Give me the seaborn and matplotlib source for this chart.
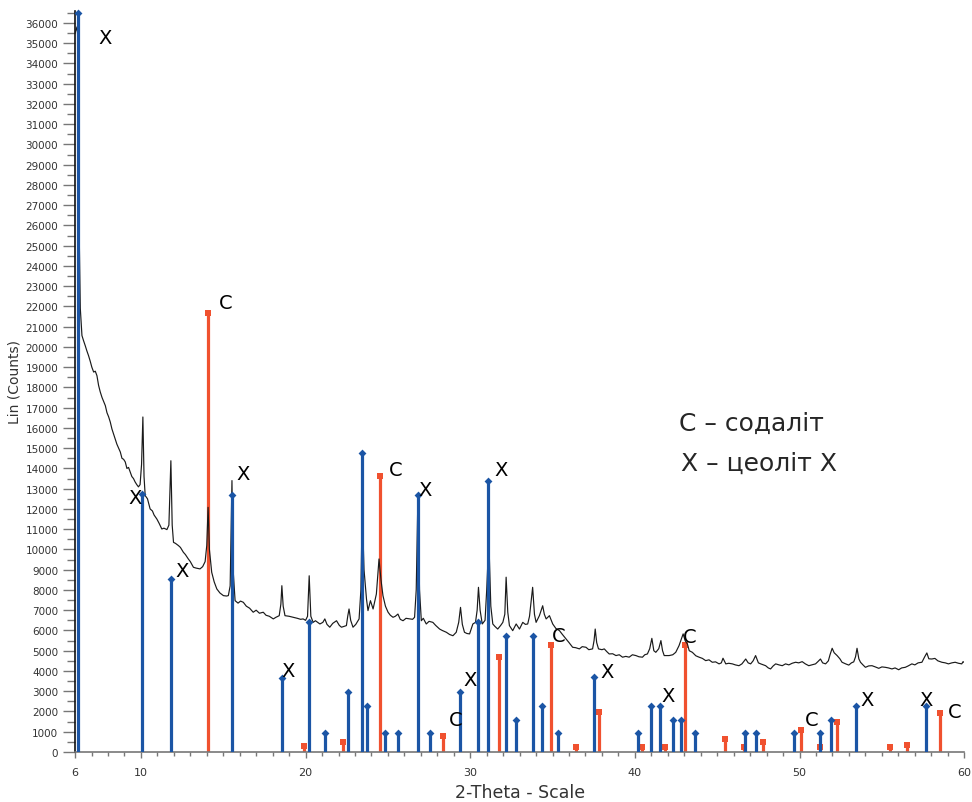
import matplotlib
matplotlib.use("Agg")
import matplotlib.pyplot as plt
import matplotlib.ticker as mticker
import pandas as pd
import seaborn as sns

pattern_2theta = [
    6.0, 6.12, 6.2, 6.26, 6.32, 6.42, 6.52, 6.62, 6.72, 6.82, 6.92, 7.02, 7.13, 7.23, 7.33, 7.43, 7.53,
    7.64, 7.74, 7.84, 7.94, 8.04, 8.14, 8.24, 8.34, 8.44, 8.54, 8.65, 8.75, 8.85, 8.95, 9.05, 9.15,
    9.25, 9.35, 9.45, 9.55, 9.65, 9.75, 9.85, 9.95, 10.04, 10.12, 10.19, 10.26, 10.4, 10.56, 10.7,
    10.8, 10.97, 11.1, 11.27, 11.4, 11.58, 11.7, 11.82, 11.9, 11.98, 12.1, 12.28, 12.4, 12.58, 12.7,
    12.88, 13.0, 13.19, 13.35, 13.59, 13.75, 13.9, 14.0, 14.08, 14.16, 14.3, 14.45, 14.61, 14.8,
    15.01, 15.2, 15.31, 15.42, 15.53, 15.6, 15.72, 15.9, 16.05, 16.22, 16.4, 16.6, 16.82, 17.0, 17.2,
    17.43, 17.6, 17.8, 18.04, 18.2, 18.4, 18.5, 18.56, 18.64, 18.75, 19.0, 19.25, 19.5, 19.7, 19.85,
    20.0, 20.12, 20.22, 20.32, 20.46, 20.6, 20.87, 21.05, 21.17, 21.3, 21.47, 21.65, 21.88, 22.05,
    22.18, 22.33, 22.48, 22.56, 22.64, 22.74, 22.88, 23.05, 23.25, 23.36, 23.44, 23.55, 23.7, 23.79,
    23.94, 24.1, 24.3, 24.46, 24.58, 24.7, 24.85, 25.01, 25.15, 25.31, 25.45, 25.61, 25.75, 25.92,
    26.1, 26.32, 26.5, 26.62, 26.72, 26.82, 26.92, 27.03, 27.15, 27.33, 27.5, 27.73, 27.9, 28.14,
    28.3, 28.55, 28.75, 28.95, 29.15, 29.3, 29.41, 29.52, 29.65, 29.8, 29.96, 30.16, 30.32, 30.42,
    30.5, 30.6, 30.73, 30.9, 31.0, 31.13, 31.25, 31.37, 31.5, 31.67, 31.85, 31.98, 32.1, 32.18,
    32.28, 32.38, 32.58, 32.79, 32.99, 33.19, 33.35, 33.49, 33.6, 33.79, 33.9, 34.0, 34.2, 34.4,
    34.5, 34.61, 34.81, 35.01, 35.2, 35.42, 35.6, 35.82, 36.0, 36.22, 36.4, 36.63, 36.8, 37.03,
    37.2, 37.43, 37.52, 37.59, 37.68, 37.79, 38.0, 38.14, 38.3, 38.44, 38.65, 38.85, 39.05, 39.25,
    39.45, 39.65, 39.85, 40.06, 40.25, 40.46, 40.6, 40.76, 40.9, 41.03, 41.15, 41.27, 41.45, 41.58,
    41.68, 41.78, 42.08, 42.3, 42.48, 42.68, 42.93, 43.05, 43.19, 43.3, 43.49, 43.7, 43.9, 44.1,
    44.3, 44.5, 44.7, 44.9, 45.11, 45.25, 45.35, 45.52, 45.7, 45.92, 46.1, 46.32, 46.5, 46.73,
    46.88, 47.03, 47.18, 47.33, 47.5, 47.64, 47.8, 47.94, 48.1, 48.24, 48.4, 48.55, 48.75, 48.95,
    49.15, 49.35, 49.55, 49.76, 49.95, 50.16, 50.35, 50.56, 50.75, 50.97, 51.1, 51.27, 51.4, 51.58,
    51.75, 51.85, 51.98, 52.1, 52.28, 52.45, 52.58, 52.8, 52.99, 53.15, 53.29, 53.4, 53.49, 53.6,
    53.7, 53.85, 54.0, 54.2, 54.4, 54.6, 54.81, 55.0, 55.21, 55.4, 55.61, 55.8, 56.02, 56.2, 56.42,
    56.6, 56.82, 57.0, 57.2, 57.43, 57.6, 57.73, 57.85, 58.03, 58.22, 58.4, 58.64, 58.85, 59.04,
    59.25, 59.45, 59.65, 59.85, 59.93, 60.0,
]
pattern_counts = [
    35500, 35800, 35000, 25200, 21900, 20560, 20300, 20060, 19800, 19570, 19300, 19000, 18760, 18800,
    18580, 18100, 17780, 17500, 17300, 17100, 16750, 16550, 16290, 15950, 15700, 15460, 15200, 15000,
    14810, 14500, 14450, 14320, 14000, 14050, 13830, 13600, 13500, 13330, 13200, 13090, 13200, 14200,
    16540, 13600, 12660, 12500, 12000, 11900, 11700, 11500, 11300, 11010, 11050, 10980, 11200, 14380,
    11200, 10350, 10300, 10190, 10100, 9860, 9750, 9530, 9400, 9120, 9080, 9040, 9150, 9400, 10200,
    12080, 10000, 8870, 8400, 8050, 7850, 7720, 7700, 7720, 8200, 13400, 9000, 7470, 7350, 7450, 7390,
    7200, 7100, 6900, 7000, 6850, 6900, 6750, 6700, 6570, 6650, 6730, 7300, 8210, 7200, 6730, 6700,
    6650, 6600, 6550, 6570, 6500, 6700, 8700, 6700, 6400, 6480, 6320, 6400, 6570, 6300, 6160, 6350,
    6480, 6250, 6160, 6200, 6240, 6700, 7060, 6500, 6160, 6300, 6570, 8000, 12000, 9000, 7550, 6980,
    7470, 7060, 7800, 9530, 8500, 7720, 7200, 6900, 6750, 6650, 6700, 6810, 6550, 6480, 6600, 6570,
    6550, 6650, 8000, 12500, 8000, 6480, 6600, 6320, 6450, 6400, 6250, 6070, 6000, 5910, 5800, 5740,
    5910, 6400, 7140, 6300, 5910, 5850, 5830, 6320, 6400, 7000, 8130, 7000, 6320, 6500, 8000, 10500,
    7200, 6320, 6200, 6070, 6250, 6400, 6800, 8630, 6900, 6240, 5990, 6320, 6070, 6400, 6300, 6320,
    6700, 8130, 6800, 6400, 6730, 7220, 6800, 6570, 6730, 6320, 6100, 5990, 5800, 5580, 5400, 5170,
    5150, 5090, 5200, 5170, 5050, 5090, 5500, 6070, 5400, 5090, 5050, 5090, 4950, 4840, 4850, 4760,
    4800, 4680, 4720, 4680, 4800, 4760, 4700, 4680, 4800, 4840, 5100, 5610, 5000, 4920, 5100, 5500,
    5000, 4760, 4760, 4800, 4920, 5250, 5830, 5500, 5330, 5000, 4920, 4750, 4680, 4620, 4510, 4550,
    4430, 4450, 4350, 4400, 4630, 4350, 4380, 4350, 4300, 4260, 4350, 4590, 4400, 4350, 4500, 4760,
    4400, 4350, 4300, 4260, 4150, 4100, 4250, 4350, 4300, 4260, 4350, 4300, 4380, 4430, 4400, 4460,
    4350, 4260, 4300, 4350, 4450, 4590, 4400, 4350, 4500, 4800, 5120, 4900, 4760, 4600, 4430, 4350,
    4290, 4400, 4450, 4700, 5120, 4600, 4430, 4300, 4180, 4250, 4260, 4200, 4130, 4200, 4180, 4150,
    4100, 4150, 4060, 4150, 4180, 4250, 4350, 4300, 4400, 4430, 4700, 4890, 4600, 4590, 4620, 4500,
    4430, 4400, 4350, 4400, 4430, 4380, 4350, 4460, 4420,
]

# reference sticks: zeolite X (blue) and sodalite (red)
zeolite_x = [6.2, 10.08, 11.84, 15.53, 18.56, 20.18, 21.15, 22.6, 23.45, 23.74, 24.83, 25.6,
             26.8, 27.53, 29.4, 30.47, 31.1, 32.2, 32.8, 33.8, 34.38, 35.33, 37.5, 40.16,
             41.0, 41.53, 42.32, 42.82, 43.64, 46.68, 47.33, 49.65, 51.23, 51.92, 53.43, 57.65]
zeolite_y = [36500, 12740, 8540, 12700, 3650, 6430, 920, 2980, 14770, 2290, 920, 920,
             12690, 920, 2980, 6430, 13380, 5740, 1580, 5740, 2290, 920, 3690, 920,
             2290, 2290, 1600, 1600, 940, 940, 940, 940, 940, 1600, 2290, 2290]
sodalite_x = [14.08, 19.9, 22.3, 24.5, 28.35, 31.76, 34.9, 36.4, 37.8, 40.45, 41.84, 43.05,
              45.5, 46.6, 47.8, 50.1, 51.27, 52.3, 55.5, 56.5, 58.55]
sodalite_y = [21660, 280, 480, 13640, 800, 4710, 5300, 230, 1990, 250, 250, 5300,
              640, 250, 510, 1090, 250, 1460, 250, 320, 1900]

# peak annotations
mark_text = ["X", "C", "X", "X", "X", "X", "C", "X", "X", "X", "C", "C", "X", "X", "C", "C",
             "X", "X", "C"]
mark_x = [7.84, 15.17, 9.66, 12.48, 18.97, 16.18, 25.45, 27.27, 31.88, 30.0, 29.11, 35.37,
          38.3, 42.04, 43.33, 50.76, 54.1, 57.7, 59.45]
mark_y = [35290, 22200, 12580, 8950, 4020, 13730, 13930, 12940, 13930, 3600, 1600, 5740,
          3970, 2810, 5710, 1600, 2570, 2570, 1990]

legend_lines = ["C – содаліт", "X – цеоліт X"]

BLUE = "#1b55a5"
RED = "#f0512f"

sns.set_style("white")
plt.rcParams["font.family"] = ["DejaVu Sans"]

fig = plt.figure(figsize=(9.72, 8.03), dpi=100)
ax = fig.add_axes([0.0772, 0.0623, 0.9148, 0.9231])

ax.vlines(sodalite_x, 0, sodalite_y, color=RED, lw=2.3, zorder=2)
sns.scatterplot(x=sodalite_x, y=sodalite_y, marker="s", s=22, color=RED, edgecolor=RED,
                linewidth=0, ax=ax, zorder=2.1)

df = pd.DataFrame({"two_theta": pattern_2theta, "counts": pattern_counts})
sns.lineplot(data=df, x="two_theta", y="counts", sort=False, estimator=None,
             color="#1a1a1a", lw=0.85, ax=ax, zorder=3)

ax.vlines(zeolite_x, 0, zeolite_y, color=BLUE, lw=2.3, zorder=4)
sns.scatterplot(x=zeolite_x, y=zeolite_y, marker="D", s=16, color=BLUE, edgecolor=BLUE,
                linewidth=0, ax=ax, zorder=4.1, clip_on=False)

for t, x, y in zip(mark_text, mark_x, mark_y):
    ax.text(x, y, t, fontsize=14, ha="center", va="center", color="black", zorder=5)

ax.text(42.7, 16270, legend_lines[0], fontsize=18, ha="left", va="center")
ax.text(42.8, 14300, legend_lines[1], fontsize=18, ha="left", va="center")

ax.set_xlim(6, 60)
ax.set_ylim(0, 36600)
ax.set_xticks([6, 10, 20, 30, 40, 50, 60])
ax.xaxis.set_minor_locator(mticker.MultipleLocator(1))
ax.set_yticks(range(0, 36001, 1000))
ax.yaxis.set_minor_locator(mticker.MultipleLocator(500))

ax.tick_params(axis="y", which="major", length=8.6, width=1.0, color="#777777",
               labelsize=7.5, labelcolor="#333333", pad=3.5, left=True)
ax.tick_params(axis="y", which="minor", length=5.5, width=1.0, color="#777777", left=True)
ax.tick_params(axis="x", which="major", length=4.5, width=1.0, color="#777777",
               labelsize=8, labelcolor="#333333", pad=6, bottom=True)
ax.tick_params(axis="x", which="minor", length=3, width=1.0, color="#777777", bottom=True)

for side in ["top", "right"]:
    ax.spines[side].set_visible(False)
ax.spines["left"].set_color("#111111")
ax.spines["left"].set_linewidth(1.2)
ax.spines["bottom"].set_color("#777777")
ax.spines["bottom"].set_linewidth(1.2)

ax.set_xlabel("2-Theta - Scale", fontsize=12.5, color="#333333", labelpad=4.5)
ax.set_ylabel("Lin (Counts)", fontsize=10, color="#333333", labelpad=3)

fig.savefig("out.png", dpi=100)
